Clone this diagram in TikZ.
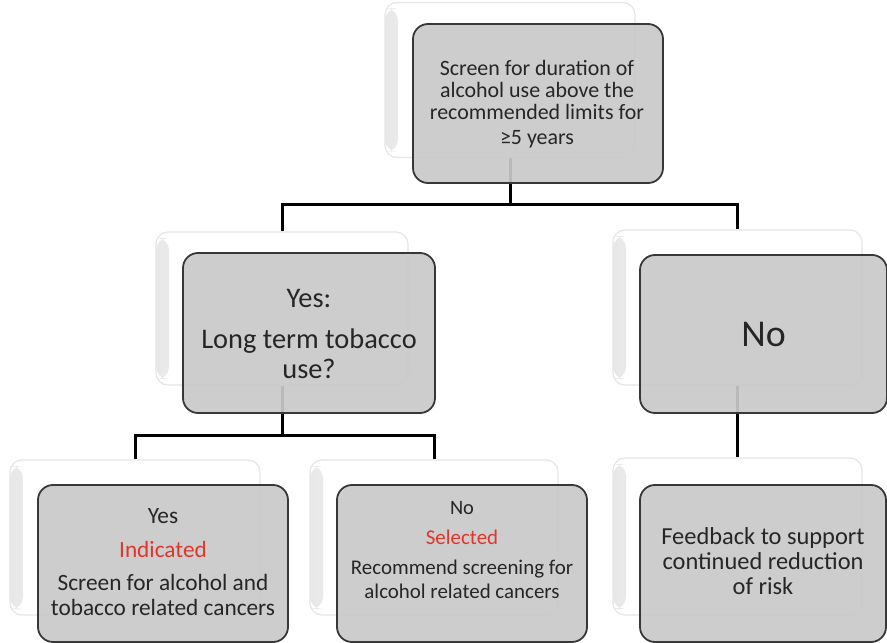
\documentclass[tikz,border=0pt]{standalone}
\usepackage{fontspec}
\setmainfont{Carlito}
\definecolor{txt}{HTML}{262626}
\definecolor{redtxt}{HTML}{E0362C}
\definecolor{edge}{HTML}{383838}
\begin{document}
\begin{tikzpicture}[x=1bp,y=-1bp,
  backbox/.style={rectangle, rounded corners=12bp, fill=white, draw=black!10, line width=1.2bp,
     minimum width=250bp, minimum height=155bp, inner sep=0pt,
     path picture={\fill[left color=black!9, right color=white]
        ([yshift=6bp]path picture bounding box.south west) rectangle ([xshift=13bp,yshift=-6bp]path picture bounding box.north west);}},
  frontbox/.style={rectangle, rounded corners=15bp, fill=black!21, fill opacity=0.92, text opacity=1,
     draw=edge, line width=1.8bp, minimum width=250bp, minimum height=158bp, inner sep=0pt,
     text=txt, align=center},
  boxtext/.style={text=txt, align=center, inner sep=0pt},
  conn/.style={draw=black, line width=3bp}
]
\useasboundingbox (0,0) rectangle (887,643);
% back boxes
\node[backbox] (topB) at (510,80) {};
\node[backbox, minimum width=252bp, minimum height=153bp] (midB) at (282,308.5) {};
\node[backbox, minimum width=249bp, minimum height=155bp] (rgtB) at (737.5,307.5) {};
\node[backbox] (blB) at (135,537.5) {};
\node[backbox, minimum width=248bp] (bmB) at (434,537.5) {};
\node[backbox, minimum width=249bp, minimum height=157bp] (brB) at (737.5,536.5) {};
% junctions
\coordinate (j1) at (510,205);
\coordinate (j2) at (282,435);
% connectors
\draw[conn] (topB.south) -- (j1);
\draw[conn] (midB.north) |- (j1);
\draw[conn] (rgtB.north) |- (j1);
\draw[conn] (midB.south) -- (j2);
\draw[conn] (blB.north) |- (j2);
\draw[conn] (bmB.north) |- (j2);
\draw[conn] (rgtB.south) -- (brB.north);
% front boxes
\node[frontbox, minimum height=159bp] (top) at (538,103.5) {};
\node[boxtext, font=\fontsize{22}{22}\selectfont] (topT) at (537,104)
  {Screen for duration of\\alcohol use above the\\recommended limits for\\[3pt]≥5 years};
\node[frontbox, minimum width=252bp, minimum height=160bp] (mid) at (309,333) {};
\node[boxtext, font=\fontsize{28.5}{30}\selectfont] (midT) at (309,334)
  {Yes:\\[12pt]Long term tobacco\\use?};
\node[frontbox, minimum width=247bp, minimum height=158bp, font=\fontsize{38}{40}\selectfont] (rgt) at (763.5,334)
  {No};
\node[frontbox, minimum height=157bp] (bl) at (163,563.5) {};
\node[boxtext, font=\fontsize{23.4}{25}\selectfont] (blT) at (163,562)
  {Yes\\[9pt]\textcolor{redtxt}{Indicated}\\[8pt]Screen for alcohol and\\tobacco related cancers};
\node[frontbox, minimum height=157bp] (bm) at (462,563.5) {};
\node[boxtext, font=\fontsize{21}{24}\selectfont] (bmT) at (462,550)
  {\fontsize{20.5}{24}\selectfont No\\[6pt]\textcolor{redtxt}{Selected}\\[7pt]Recommend screening for\\alcohol related cancers};
\node[frontbox, minimum width=246bp, minimum height=157bp] (br) at (763,563.5) {};
\node[boxtext, font=\fontsize{24.5}{25}\selectfont] (brT) at (763,561)
  {Feedback to support\\continued reduction\\of risk};
\end{tikzpicture}
\end{document}
